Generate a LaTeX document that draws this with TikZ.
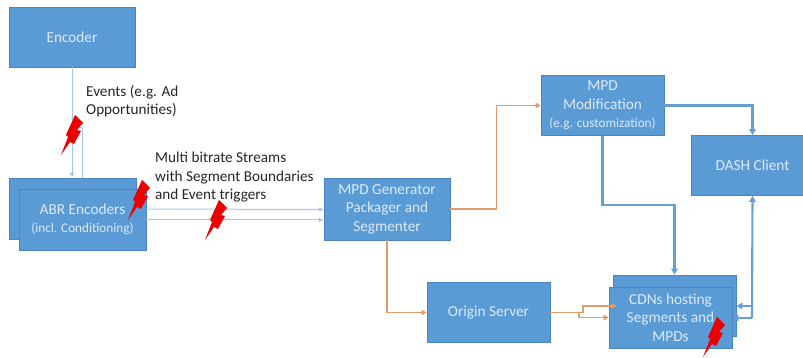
\documentclass[tikz,border=0pt]{standalone}
\usepackage{fontspec}
\setmainfont{Carlito}
\usetikzlibrary{arrows.meta,calc}
\definecolor{boxfill}{HTML}{5B9BD5}
\definecolor{boxline}{HTML}{4A85BD}
\definecolor{boxtext}{HTML}{DCE9F6}
\definecolor{orangeline}{HTML}{E59A6C}
\definecolor{blueline}{HTML}{669FD6}
\definecolor{thinline}{HTML}{A9C6E6}
\tikzset{
  box/.style={draw=boxline,line width=0.8pt,fill=boxfill,text=boxtext,align=center,inner sep=0pt,font=\fontsize{15.3}{18.5}\selectfont},
  lbl/.style={text=black!85,align=left,anchor=north west,inner sep=0pt,font=\fontsize{15.2}{18.5}\selectfont},
  orangearr/.style={draw=orangeline,line width=1.8pt,-{Triangle[length=5pt,width=5.5pt]}},
  orangeplain/.style={draw=orangeline,line width=1.8pt},
  bluearr/.style={draw=blueline,line width=2.1pt,-{Triangle[length=6pt,width=6.5pt]}},
  thinarr/.style={draw=thinline,line width=1pt,-{Triangle[length=5pt,width=4pt,fill=blueline]}},
  thinplain/.style={draw=thinline,line width=1pt},
  bolt/.pic={\fill[red!92!black]
    (0,0) -- (7,-18) -- (5,-20) -- (14,-40) -- (22,-32) -- (16,-25) -- (20,-24) -- (13,-11) -- (9,-13) -- cycle;},
}
\newcommand{\smalltext}[1]{{\fontsize{13.2}{16}\selectfont #1}}
\begin{document}
\begin{tikzpicture}[x=1pt,y=-1pt]
\useasboundingbox (0,0) rectangle (803,358);
% boxes
\node[box,minimum width=126pt,minimum height=60pt] (enc) at (72,37) {Encoder};
\node[box,minimum width=127pt,minimum height=61pt] (abrb) at (72.5,208.5) {};
\node[box,minimum width=127pt,minimum height=61pt] (abr) at (82.5,219.5) {ABR Encoders\\\smalltext{(incl. Conditioning)}};
\node[box,minimum width=126pt,minimum height=62pt] (gen) at (387,209) {MPD Generator\\Packager and\\Segmenter};
\node[box,minimum width=123pt,minimum height=60pt] (mod) at (602.5,105.5) {MPD\\Modification\\\smalltext{(e.g. customization)}};
\node[box,minimum width=123pt,minimum height=60pt] (dash) at (752.5,165.5) {DASH Client};
\node[box,minimum width=123pt,minimum height=60pt] (orig) at (488.5,312.5) {Origin Server};
\node[box,minimum width=123pt,minimum height=61pt] (cdnb) at (674.5,305.5) {};
\node[box,minimum width=123pt,minimum height=61pt] (cdn) at (670.5,317.5) {CDNs hosting\\Segments and\\MPDs};
% free ends
\coordinate (evstart) at (78,128);
\coordinate (evturn) at (82,128);
\coordinate (bluejoin) at (752,318);
\coordinate (orangeup) at (583,312.5);
\coordinate (orangedown) at (579,312.5);
% connectors
\draw[thinarr] (enc.south) -- (enc.south |- abrb.north);
\draw[thinplain] (evstart) -- (evturn) -- (evturn |- abrb.north);
\draw[thinarr] ($(abr.east)+(0,-10.5)$) -- ($(gen.west)+(0,0.5)$);
\draw[thinarr] ($(abr.east)+(0,0.5)$) -- ($(gen.west)+(0,11)$);
\draw[orangearr] (gen.east) -- ++(46,0) |- (mod.west);
\draw[orangearr] (gen.south) |- (orig.west);
\draw[orangeplain] (orig.east) -- (orangeup);
\draw[orangearr] (orangeup) |- ($(cdn.west)+(8,-11.5)$);
\draw[orangearr] (orangedown) |- (cdn.west);
\draw[bluearr] (mod.east) -| (dash.north);
\draw[bluearr] (mod.south) |- ($(cdnb.north)+(0,-70)$) -- (cdnb.north);
\draw[bluearr] (bluejoin) -- (dash.south);
\draw[bluearr] (bluejoin) -- ++(0,-12) -- (cdnb.east |- 0,306);
\draw[bluearr] (bluejoin) -- (cdn.east |- bluejoin);
% labels
\node[lbl] (l1) at (86,85) {Events (e.g. Ad\\Opportunities)};
\node[lbl] (l2) at (155,152) {Multi bitrate Streams\\with Segment Boundaries\\and Event triggers};
% lightning bolts
\pic at (61,155) {bolt};
\pic at (128,220) {bolt};
\pic at (205,240) {bolt};
\pic at (703,357) {bolt};
\end{tikzpicture}
\end{document}
